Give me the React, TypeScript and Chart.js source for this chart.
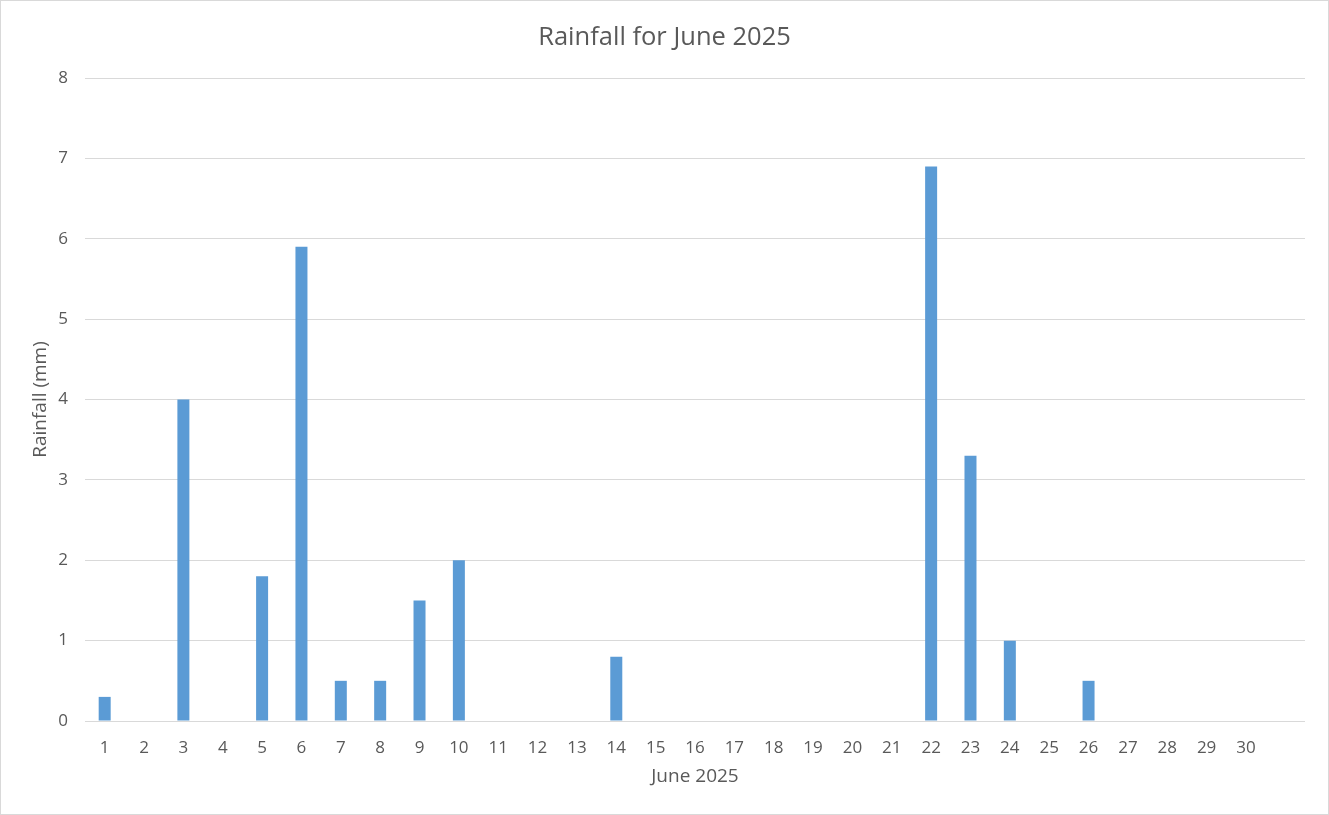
import React, { useEffect, useRef } from "react";
import { Chart, registerables } from "chart.js";

Chart.register(...registerables);

const days: string[] = [
  "1", "2", "3", "4", "5", "6", "7", "8", "9", "10",
  "11", "12", "13", "14", "15", "16", "17", "18", "19", "20",
  "21", "22", "23", "24", "25", "26", "27", "28", "29", "30", "",
];

const rainfall: (number | null)[] = [
  0.3, 0, 4.0, 0, 1.8, 5.9, 0.5, 0.5, 1.5, 2.0,
  0, 0, 0, 0.8, 0, 0, 0, 0, 0, 0,
  0, 6.9, 3.3, 1.0, 0, 0.5, 0, 0, 0, 0, null,
];

const yTicks: number[] = [0, 1, 2, 3, 4, 5, 6, 7, 8];

const titleText = "Rainfall for June 2025";
const xTitle = "June 2025";
const yTitle = "Rainfall (mm)";

const FONT = "'Open Sans', 'Noto Sans', sans-serif";
const TEXT = "#595959";
const GRID = "#d9d9d9";

export default function App() {
  const ref = useRef<HTMLCanvasElement | null>(null);

  useEffect(() => {
    if (!ref.current) return;
    const chart = new Chart(ref.current, {
      type: "bar",
      data: {
        labels: days,
        datasets: [
          {
            label: "Rainfall (mm)",
            data: rainfall,
            backgroundColor: "#5b9bd5",
            borderWidth: 0,
            categoryPercentage: 1,
            barPercentage: 0.305,
          },
        ],
      },
      options: {
        responsive: false,
        animation: false,
        layout: { padding: { left: 24, right: 24, top: 0, bottom: 0 } },
        plugins: {
          legend: { display: false },
          tooltip: { enabled: false },
          title: {
            display: true,
            text: titleText,
            color: TEXT,
            font: { family: FONT, size: 25.5, weight: "normal", lineHeight: 1.2 },
            padding: { top: 22, bottom: 25.4 },
          },
        },
        scales: {
          x: {
            grid: { display: false, drawTicks: false },
            border: { display: false },
            ticks: {
              color: TEXT,
              font: { family: FONT, size: 17 },
              padding: 17,
              maxRotation: 0,
              autoSkip: false,
            },
            title: {
              display: true,
              text: xTitle,
              color: TEXT,
              font: { family: FONT, size: 19, lineHeight: 1.2 },
              padding: { top: 0, bottom: 26.6 },
            },
            afterFit: (scale: any) => {
              scale.height = 94;
            },
          },
          y: {
            min: 0,
            max: 8,
            afterBuildTicks: (scale: any) => {
              scale.ticks = yTicks.map((v) => ({ value: v }));
            },
            grid: { color: GRID, lineWidth: 1, drawTicks: false },
            border: { display: false },
            ticks: {
              color: TEXT,
              font: { family: FONT, size: 17 },
              padding: 17,
            },
            title: {
              display: true,
              text: yTitle,
              color: TEXT,
              font: { family: FONT, size: 19, lineHeight: 1.2 },
              padding: { top: 5.6, bottom: 0 },
            },
            afterFit: (scale: any) => {
              scale.width = 61;
            },
          },
        },
      },
    });
    return () => chart.destroy();
  }, []);

  return (
    <div style={{ position: "absolute", left: 0, top: 0, width: 1329, height: 815, background: "#fff" }}>
      <canvas ref={ref} width={1329} height={815} style={{ position: "absolute", left: 0, top: 0 }} />
      <div
        style={{
          position: "absolute",
          left: 0,
          top: 0,
          width: 1329,
          height: 815,
          boxSizing: "border-box",
          border: `1px solid ${GRID}`,
          pointerEvents: "none",
        }}
      />
    </div>
  );
}
